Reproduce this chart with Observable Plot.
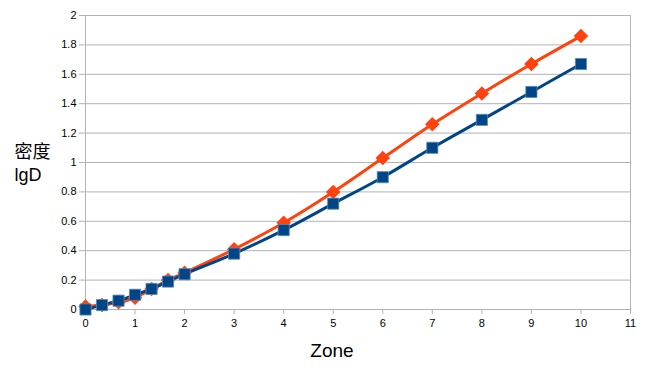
<!DOCTYPE html>
<html><head><meta charset="utf-8">
<script src="https://cdn.jsdelivr.net/npm/d3@7"></script>
<script src="https://cdn.jsdelivr.net/npm/@observablehq/plot@0.6"></script>
<style>body{margin:0;background:#fff}</style>
</head><body><div id="chart"></div>
<script>
const zones = [0, 1/3, 2/3, 1, 4/3, 5/3, 2, 3, 4, 5, 6, 7, 8, 9, 10];
const orangeValues = [0.02, 0.03, 0.05, 0.08, 0.14, 0.20, 0.25, 0.41, 0.59, 0.80, 1.03, 1.26, 1.47, 1.67, 1.86];
const blueValues   = [0.00, 0.03, 0.06, 0.10, 0.14, 0.19, 0.24, 0.38, 0.54, 0.72, 0.90, 1.10, 1.29, 1.48, 1.67];
const xTicks = [0,1,2,3,4,5,6,7,8,9,10,11];
const yTicks = [0,0.2,0.4,0.6,0.8,1,1.2,1.4,1.6,1.8,2];

const orange = zones.map((x,i)=>({x, y: orangeValues[i]}));
const blue = zones.map((x,i)=>({x, y: blueValues[i]}));
const grid = "#b3b3b3";
const font = "'Liberation Sans', 'Noto Sans CJK SC', sans-serif";

// square rotated 45 degrees
const rhombus = {draw(ctx, size) {
  const r = Math.sqrt(size / 2);
  ctx.moveTo(0, -r); ctx.lineTo(r, 0); ctx.lineTo(0, r); ctx.lineTo(-r, 0); ctx.closePath();
}};

const chart = Plot.plot({
  width: 650, height: 390,
  marginLeft: 85, marginRight: 20, marginTop: 15, marginBottom: 81,
  style: {fontFamily: font, fontSize: "11px", color: "#000", background: "#fff"},
  x: {domain: [0, 11], ticks: xTicks, label: null},
  y: {domain: [0, 2], ticks: yTicks, label: null, tickFormat: d => String(+d.toFixed(1))},
  marks: [
    Plot.gridY(yTicks, {stroke: grid, strokeOpacity: 1}),
    Plot.ruleX([0, 11], {stroke: grid}),
    Plot.axisY({ticks: yTicks, tickSize: 6, stroke: grid, tickPadding: 3, tickFormat: d => String(+d.toFixed(1)), fontSize: 11, label: null}),
    Plot.axisX({ticks: xTicks, tickSize: 5, stroke: grid, tickPadding: 5, fontSize: 11, label: null}),
    Plot.ruleY([0], {stroke: grid}),
    Plot.line(orange, {x: "x", y: "y", stroke: "#ff420e", strokeWidth: 3, curve: "catmull-rom"}),
    Plot.line(blue, {x: "x", y: "y", stroke: "#004586", strokeWidth: 3, curve: "catmull-rom"}),
    Plot.dot(orange, {x: "x", y: "y", symbol: rhombus, r: 5.8, fill: "#ff420e"}),
    Plot.dot(blue, {x: "x", y: "y", symbol: "square", r: 6.3, fill: "#004586", stroke: "#5a8ab8", strokeWidth: 0.8}),
    Plot.text(["密度\nlgD"], {frameAnchor: "left", dx: -71, textAnchor: "start", fontSize: 18, lineHeight: 1.25, fill: "#000"}),
    Plot.text(["Zone"], {frameAnchor: "bottom", dx: -26, dy: 47, fontSize: 19, fill: "#000"})
  ]
});
document.getElementById("chart").append(chart);
</script>
</body></html>
